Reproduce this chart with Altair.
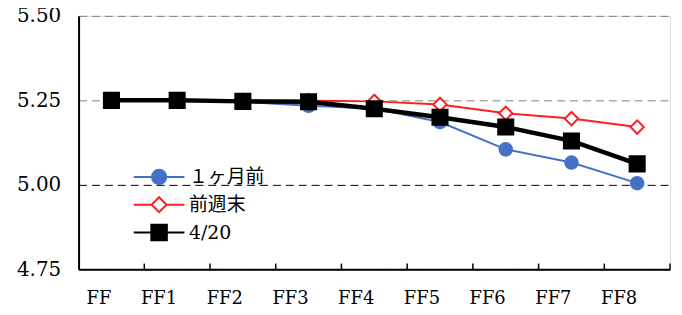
import altair as alt
import pandas as pd

categories = ["FF", "FF1", "FF2", "FF3", "FF4", "FF5", "FF6", "FF7", "FF8"]
series_names = ["１ヶ月前", "前週末", "4/20"]
month_ago = [5.250, 5.250, 5.246, 5.234, 5.226, 5.186, 5.105, 5.066, 5.005]
last_week = [5.250, 5.250, 5.250, 5.249, 5.247, 5.238, 5.212, 5.196, 5.171]
apr20 = [5.250, 5.250, 5.247, 5.246, 5.225, 5.200, 5.171, 5.130, 5.062]
y_ticks = [4.75, 5.00, 5.25, 5.50]

rows = []
for name, vals in zip(series_names, [month_ago, last_week, apr20]):
    for c, v in zip(categories, vals):
        rows.append({"series": name, "cat": c, "value": v})
df = pd.DataFrame(rows)
cat_df = pd.DataFrame({"cat": categories})

SERIF = "DejaVu Serif"
SERIF_CJK = "DejaVu Serif, Noto Sans CJK JP"
BLUE = "#4472C4"
RED = "#FF1F1F"

x_enc = alt.X(
    "cat:N", sort=categories,
    scale=alt.Scale(type="band", paddingInner=0, paddingOuter=0),
    axis=alt.Axis(title=None, labelAngle=0, ticks=False, tickSize=0,
                  domainColor="black", domainWidth=2, labelFont=SERIF,
                  labelFontSize=18, labelColor="black", labelPadding=29),
)
y_enc = alt.Y(
    "value:Q",
    scale=alt.Scale(domain=[4.75, 5.5], nice=False, zero=False),
    axis=alt.Axis(title=None, values=y_ticks, format=".2f", ticks=False, tickSize=0,
                  grid=True, gridDash=[8, 5], gridWidth=1,
                  gridColor={"condition": {"test": "datum.value === 5", "value": "black"},
                             "value": "#808080"},
                  domainColor="black", domainWidth=2, labelFont=SERIF,
                  labelFontSize=20, labelColor="black", labelPadding=18),
)

base = alt.Chart(df)


def series_layers(name, color, width, point_kwargs):
    sub = base.transform_filter(alt.datum.series == name)
    line = sub.mark_line(color=color, strokeWidth=width).encode(x=x_enc, y=y_enc)
    pts = sub.mark_point(opacity=1, **point_kwargs).encode(x=x_enc, y=y_enc)
    return [line, pts]


layers = []
layers += series_layers("１ヶ月前", BLUE, 2,
                        dict(shape="circle", filled=True, fill=BLUE, stroke=BLUE, size=160))
layers += series_layers("前週末", RED, 2,
                        dict(shape="diamond", fill="white", stroke=RED, strokeWidth=2, size=180))
layers += series_layers("4/20", "black", 4.5,
                        dict(shape="square", filled=True, fill="black", stroke="black", size=230))

ticks = alt.Chart(cat_df).mark_rule(color="black", strokeWidth=1.5).encode(
    x=alt.X("cat:N", sort=categories, bandPosition=1),
    y=alt.datum(4.75),
    y2=alt.datum(4.767),
)

# symbol size 400 -> unit = 10px; lines span +-2.55 units (51px)
paths = [
    "M-2.55,0H2.55M0.72,0A0.72,0.72,0,1,1,-0.72,0A0.72,0.72,0,1,1,0.72,0Z",
    "M-2.55,0H-0.75M0.75,0H2.55M0,-0.75L0.75,0L0,0.75L-0.75,0Z",
    "M-2.55,0H2.55M-0.78,-0.78H0.78V0.78H-0.78Z",
]
leg = alt.Legend(title=None, orient="none", legendX=70, legendY=151,
                 labelFont=SERIF_CJK, labelFontSize=19, labelColor="black",
                 symbolSize=400, symbolOpacity=1, labelOffset=19,
                 rowPadding=4, padding=0)
legend_layer = base.transform_filter(alt.datum.cat == "FF").mark_point(opacity=0).encode(
    shape=alt.Shape("series:N", sort=series_names,
                    scale=alt.Scale(domain=series_names, range=paths), legend=leg),
    stroke=alt.Stroke("series:N", sort=series_names,
                      scale=alt.Scale(domain=series_names, range=[BLUE, RED, "black"]), legend=leg),
    fill=alt.Fill("series:N", sort=series_names,
                  scale=alt.Scale(domain=series_names, range=[BLUE, "white", "black"]), legend=leg),
    strokeWidth=alt.StrokeWidth("series:N", sort=series_names,
                                scale=alt.Scale(domain=series_names, range=[2, 2, 4.5]), legend=leg),
    x=x_enc, y=y_enc,
)

chart = alt.layer(ticks, *layers, legend_layer).properties(
    width=595, height=255,
    autosize=alt.AutoSizeParams(type="none"),
    padding={"left": 71, "top": 7, "right": 4, "bottom": 42},
).configure_view(strokeWidth=0).configure(background="white")

chart.save("out.html", embed_options={"renderer": "svg", "actions": False})
